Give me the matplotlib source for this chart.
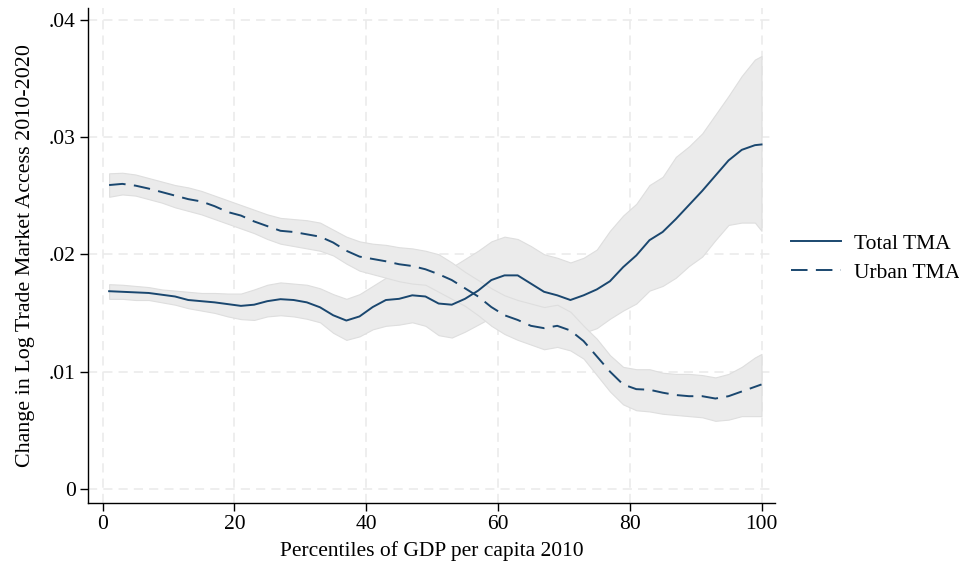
import matplotlib
matplotlib.use('Agg')
import matplotlib.pyplot as plt
from matplotlib.ticker import FuncFormatter

plt.rcParams['font.family'] = ['Liberation Serif', 'DejaVu Serif']

# percentiles of GDP per capita
pct = [1, 3, 5, 7, 9, 11, 13, 15, 17, 19, 21, 23, 25, 27, 29, 31, 33, 35, 37, 39,
       41, 43, 45, 47, 49, 51, 53, 55, 57, 59, 61, 63, 65, 67, 69, 71, 73, 75, 77, 79,
       81, 83, 85, 87, 89, 91, 93, 95, 97, 99, 100]

total = [0.01685, 0.0168, 0.01675, 0.0167, 0.01655, 0.0164, 0.0161, 0.0160, 0.0159, 0.01575,
         0.0156, 0.0157, 0.0160, 0.01617, 0.0161, 0.0159, 0.01548, 0.0148, 0.01435, 0.0147,
         0.0155, 0.0161, 0.0162, 0.0165, 0.0164, 0.0158, 0.0157, 0.0162, 0.0169, 0.0178,
         0.0182, 0.0182, 0.0175, 0.0168, 0.0165, 0.0161, 0.0165, 0.0170, 0.0177, 0.0189,
         0.0199, 0.0212, 0.0219, 0.0230, 0.0242, 0.0254, 0.0267, 0.0280, 0.0289, 0.0293, 0.02936]
total_hi = [0.01745, 0.0174, 0.0173, 0.0172, 0.0170, 0.0169, 0.0168, 0.0167, 0.0167, 0.01665,
            0.01665, 0.0170, 0.0174, 0.0176, 0.0175, 0.0174, 0.0171, 0.0166, 0.0162, 0.0166,
            0.0173, 0.0180, 0.0182, 0.0185, 0.0187, 0.0186, 0.0189, 0.0196, 0.0203, 0.0211,
            0.0215, 0.0213, 0.0207, 0.0200, 0.0197, 0.0193, 0.0197, 0.0204, 0.0220, 0.0233,
            0.0243, 0.0259, 0.0266, 0.0283, 0.0292, 0.0303, 0.0319, 0.0335, 0.0352, 0.0366, 0.0369]
total_lo = [0.0162, 0.0162, 0.0161, 0.0161, 0.0159, 0.0157, 0.0154, 0.0152, 0.0150, 0.0147,
            0.01447, 0.0144, 0.0147, 0.0148, 0.0147, 0.0145, 0.0142, 0.0133, 0.0127, 0.0130,
            0.0136, 0.0139, 0.0140, 0.0142, 0.0139, 0.0131, 0.0129, 0.0134, 0.0140, 0.0146,
            0.0149, 0.0149, 0.0144, 0.0138, 0.0135, 0.0131, 0.0133, 0.0137, 0.0145, 0.0152,
            0.0158, 0.0169, 0.0173, 0.0180, 0.0190, 0.0198, 0.0212, 0.0225, 0.0227, 0.0227, 0.0220]

urban = [0.0259, 0.0260, 0.02585, 0.0256, 0.0253, 0.0250, 0.0247, 0.0245, 0.0241, 0.0236,
         0.0233, 0.0228, 0.0224, 0.0220, 0.0219, 0.0217, 0.0215, 0.0210, 0.0203, 0.0198,
         0.0196, 0.0194, 0.01915, 0.0190, 0.01872, 0.0183, 0.0178, 0.0171, 0.0164, 0.0155,
         0.0148, 0.0144, 0.0139, 0.0137, 0.0139, 0.0135, 0.0126, 0.0113, 0.0100, 0.0089,
         0.0085, 0.00845, 0.0082, 0.0080, 0.0079, 0.0079, 0.0077, 0.0079, 0.0083, 0.0087, 0.0089]
urban_hi = [0.0269, 0.02695, 0.0268, 0.0265, 0.0262, 0.0259, 0.0257, 0.0254, 0.0250, 0.0246,
            0.0242, 0.0238, 0.0234, 0.0231, 0.0230, 0.0229, 0.0227, 0.0221, 0.0215, 0.0211,
            0.0209, 0.0208, 0.0206, 0.0205, 0.0203, 0.0200, 0.0193, 0.0185, 0.0178, 0.0171,
            0.0165, 0.0161, 0.0158, 0.0155, 0.0157, 0.0151, 0.0139, 0.0128, 0.0114, 0.0104,
            0.0102, 0.0102, 0.0099, 0.0098, 0.0098, 0.0097, 0.0095, 0.0098, 0.0104, 0.0112, 0.0115]
urban_lo = [0.0249, 0.0251, 0.0250, 0.0247, 0.0244, 0.0240, 0.0237, 0.0234, 0.0230, 0.0226,
            0.0222, 0.0218, 0.0213, 0.0209, 0.0207, 0.0205, 0.0203, 0.0199, 0.0192, 0.0186,
            0.0183, 0.0180, 0.0177, 0.0175, 0.0174, 0.0168, 0.0162, 0.0156, 0.0148, 0.0139,
            0.0132, 0.0127, 0.0123, 0.0119, 0.0121, 0.0118, 0.0111, 0.0097, 0.0083, 0.0072,
            0.0067, 0.0066, 0.0064, 0.0063, 0.0062, 0.0061, 0.0058, 0.0059, 0.0062, 0.0062, 0.0062]

navy = '#1a476f'
band = '#ebebeb'
band_edge = '#dedede'
fs = 15.5

fig = plt.figure(figsize=(9.59, 5.67), dpi=100)
ax = fig.add_axes([0.0918, 0.113, 0.716, 0.873])

# confidence bands
ax.fill_between(pct, total_lo, total_hi, facecolor=band, edgecolor=band_edge, linewidth=0.8, zorder=2)
ax.fill_between(pct, urban_lo, urban_hi, facecolor=band, edgecolor=band_edge, linewidth=0.8, zorder=2)

ax.plot(pct, total, color=navy, linewidth=1.4, label='Total TMA', zorder=3)
ax.plot(pct, urban, color=navy, linewidth=1.4, dashes=(8.5, 4.3), label='Urban TMA', zorder=3)

ax.set_xlim(-2.2, 102)
ax.set_ylim(-0.0012, 0.041)
ax.set_xticks([0, 20, 40, 60, 80, 100])
ax.set_yticks([0, 0.01, 0.02, 0.03, 0.04])
ax.yaxis.set_major_formatter(FuncFormatter(lambda v, p: '0' if abs(v) < 1e-9 else f'{v:.2f}'.lstrip('0')))

ax.grid(True, color='#eaeaea', linestyle=(0, (6, 4)), linewidth=1.1, zorder=0)
ax.set_axisbelow(True)

for s in ['top', 'right']:
    ax.spines[s].set_visible(False)
ax.spines['left'].set_linewidth(1.0)
ax.spines['bottom'].set_linewidth(1.0)
ax.tick_params(direction='out', length=6, width=1, labelsize=fs, colors='black', pad=3)

ax.set_xlabel('Percentiles of GDP per capita 2010', fontsize=fs, labelpad=5)
ax.set_ylabel('Change in Log Trade Market Access 2010-2020', fontsize=15.8, labelpad=10)

ax.legend(loc='center left', bbox_to_anchor=(0.825, 0.5444), bbox_transform=fig.transFigure,
          frameon=False, fontsize=fs, borderaxespad=0, borderpad=0,
          handlelength=2.3, handletextpad=0.6, labelspacing=0.4)

fig.savefig('out.png', dpi=100)
